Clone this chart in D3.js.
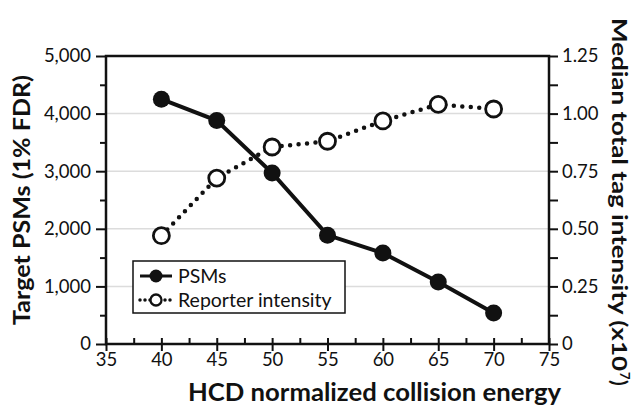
<!DOCTYPE html>
<html>
<head>
<meta charset="utf-8">
<script src="https://cdn.jsdelivr.net/npm/d3@7"></script>
<style>
  body { margin: 0; background: #fff; }
  text { font-family: Lato, sans-serif; fill: #111; }
</style>
</head>
<body>
<div id="chart"></div>
<script>
// values
const energy = [40, 45, 50, 55, 60, 65, 70]
const psms = [4250, 3880, 2970, 1890, 1580, 1075, 540]
const reporter = [0.47, 0.72, 0.855, 0.88, 0.968, 1.04, 1.02]
const xTicks = [35, 40, 45, 50, 55, 60, 65, 70, 75]
const leftTicks = [0, 1000, 2000, 3000, 4000, 5000]
const rightTicks = [0, 0.25, 0.5, 0.75, 1.0, 1.25]
const seriesNames = ['PSMs', 'Reporter intensity']

const width = 635
const height = 407
const m = {top: 56, right: 86, bottom: 63, left: 106}

const svg = d3.select('#chart')
              .append('svg')
              .attr('width', width)
              .attr('height', height)

const x = d3.scaleLinear().domain([35, 75]).range([m.left, width - m.right])
const yL = d3.scaleLinear().domain([0, 5000]).range([height - m.bottom, m.top])
const yR = d3.scaleLinear().domain([0, 1.25]).range([height - m.bottom, m.top])

const x0 = x.range()[0], x1 = x.range()[1]
const yb = yL.range()[0], yt = yL.range()[1]

// grid
svg.append('g')
    .selectAll('line')
    .data(leftTicks.slice(1, -1))
    .enter()
    .append('line')
    .attr('x1', x0).attr('x2', x1)
    .attr('y1', d => yL(d)).attr('y2', d => yL(d))
    .style('stroke', '#dcdcdc')
    .style('stroke-width', 1.5)

// left axis
const leftAxis = svg.append('g')
    .attr('transform', `translate(${x0},0)`)
    .call(d3.axisLeft(yL).tickValues(d3.range(0, 5001, 500)).tickSize(9).tickFormat(d => leftTicks.includes(d) ? d3.format(',')(d) : ''))
leftAxis.selectAll('.tick line').attr('x2', d => leftTicks.includes(d) ? -10 : -6)

// right axis
const rightAxis = svg.append('g')
    .attr('transform', `translate(${x1},0)`)
    .call(d3.axisRight(yR).tickValues(d3.range(0, 11).map(i => i * 0.125)).tickSize(9)
        .tickFormat(d => rightTicks.some(t => Math.abs(t - d) < 1e-9) ? (d === 0 ? '0' : d3.format('.2f')(d)) : ''))

// bottom axis
const bottomAxis = svg.append('g')
    .attr('transform', `translate(0,${yb})`)
    .call(d3.axisBottom(x).tickValues(d3.range(35, 75.1, 2.5)).tickSize(7)
        .tickFormat(d => xTicks.includes(d) ? d : ''))
bottomAxis.selectAll('.tick line')
    .attr('y1', -6)
    .attr('y2', d => xTicks.includes(d) ? 7 : 0)

svg.selectAll('.domain').remove()
svg.selectAll('.tick line').style('stroke', '#111').style('stroke-width', 2)
svg.selectAll('.tick text').style('font-size', '18.5px').style('font-family', 'Lato, sans-serif').style('fill', '#111')
leftAxis.selectAll('.tick text').attr('x', -15)
rightAxis.selectAll('.tick text').attr('x', 13)
bottomAxis.selectAll('.tick text').attr('y', 9)

// frame
svg.append('rect')
    .attr('x', x0).attr('y', yt)
    .attr('width', x1 - x0).attr('height', yb - yt)
    .style('fill', 'none')
    .style('stroke', '#111')
    .style('stroke-width', 2.5)

// reporter series (dotted, open circles)
svg.append('path')
    .datum(energy)
    .attr('d', d3.line().x(d => x(d)).y((_, i) => yR(reporter[i])))
    .style('fill', 'none')
    .style('stroke', '#111')
    .style('stroke-width', 4.5)
    .style('stroke-linecap', 'round')
    .style('stroke-dasharray', '0 8.5')

// psm series (solid, filled)
svg.append('path')
    .datum(energy)
    .attr('d', d3.line().x(d => x(d)).y((_, i) => yL(psms[i])))
    .style('fill', 'none')
    .style('stroke', '#111')
    .style('stroke-width', 4)

svg.append('g').selectAll('circle')
    .data(energy)
    .enter()
    .append('circle')
    .attr('cx', d => x(d))
    .attr('cy', (_, i) => yR(reporter[i]))
    .attr('r', 8)
    .style('fill', '#fff')
    .style('stroke', '#111')
    .style('stroke-width', 2.8)

svg.append('g').selectAll('circle')
    .data(energy)
    .enter()
    .append('circle')
    .attr('cx', d => x(d))
    .attr('cy', (_, i) => yL(psms[i]))
    .attr('r', 8.5)
    .style('fill', '#111')

// legend
const lg = svg.append('g').attr('transform', 'translate(133,261)')
lg.append('rect')
    .attr('width', 212).attr('height', 52)
    .style('fill', '#fff')
    .style('stroke', '#111')
    .style('stroke-width', 1.5)

lg.append('line')
    .attr('x1', 7).attr('x2', 39).attr('y1', 15).attr('y2', 15)
    .style('stroke', '#111').style('stroke-width', 3)
lg.append('circle').attr('cx', 23).attr('cy', 15).attr('r', 6.5).style('fill', '#111')
lg.append('line')
    .attr('x1', 7).attr('x2', 39).attr('y1', 39).attr('y2', 39)
    .style('stroke', '#111').style('stroke-width', 3.5)
    .style('stroke-linecap', 'round').style('stroke-dasharray', '0 5')
lg.append('circle').attr('cx', 23).attr('cy', 39).attr('r', 5.5)
    .style('fill', '#fff').style('stroke', '#111').style('stroke-width', 2.3)

lg.selectAll('text.lab')
    .data(seriesNames)
    .enter()
    .append('text')
    .attr('x', 45)
    .attr('y', (_, i) => 21.5 + i * 24)
    .style('font-size', '19.5px')
    .text(d => d)

// axis titles (stretched a bit, the original face is wider than Lato)
svg.append('text')
    .attr('x', 188)
    .attr('y', 401)
    .attr('textLength', 373)
    .attr('lengthAdjust', 'spacingAndGlyphs')
    .style('font', 'bold 24px Lato, sans-serif')
    .text('HCD normalized collision energy')

svg.append('text')
    .attr('transform', `translate(30,325) rotate(-90)`)
    .attr('textLength', 250)
    .attr('lengthAdjust', 'spacingAndGlyphs')
    .style('font', 'bold 22px Lato, sans-serif')
    .text('Target PSMs (1% FDR)')

const rg = svg.append('g').attr('transform', 'translate(612,18) rotate(90)')
rg.append('text')
    .attr('textLength', 353)
    .attr('lengthAdjust', 'spacingAndGlyphs')
    .style('font', 'bold 21px Lato, sans-serif')
    .text('Median total tag intensity (x10')
rg.append('text')
    .attr('x', 354).attr('y', -8)
    .style('font', 'bold 13px Lato, sans-serif')
    .text('7')
rg.append('text')
    .attr('x', 362)
    .style('font', 'bold 21px Lato, sans-serif')
    .text(')')
</script>
</body>
</html>
